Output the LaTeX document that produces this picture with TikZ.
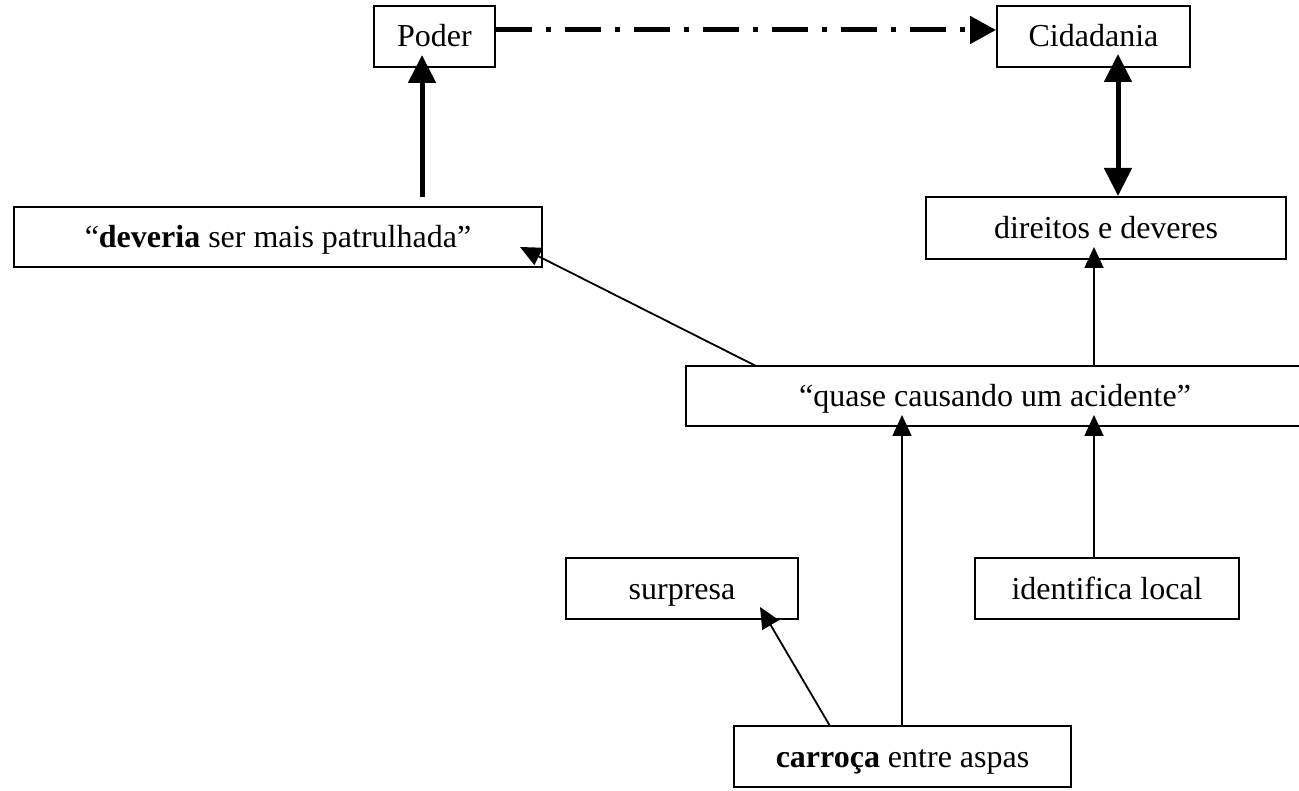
\documentclass[tikz,border=0pt]{standalone}
\usepackage{fontspec}
\setmainfont{Liberation Serif}
\usetikzlibrary{arrows.meta}
\begin{document}
\begin{tikzpicture}[x=1pt,y=-1pt,
  box/.style={draw,line width=2pt,rectangle,inner sep=0pt,text height=23pt,text depth=2pt,font=\fontsize{32}{37}\selectfont},
  thinarrow/.style={line width=1.8pt,-{Triangle[length=21pt,width=19pt]}},
  thickarrow/.style={line width=5pt,-{Triangle[length=28pt,width=27pt]}},
  bothways/.style={line width=5pt,{Triangle[length=28pt,width=27pt]}-{Triangle[length=28pt,width=27pt]}},
  dashdotarrow/.style={line width=5pt,dash pattern=on 36pt off 14pt on 5pt off 14pt,-{Triangle[length=26pt,width=27pt]}}]
\useasboundingbox (0,0) rectangle (1299,791);

% concept boxes
\node[box,minimum width=121pt,minimum height=61pt] (poder) at (434.5,36.5) {Poder};
\node[box,minimum width=193pt,minimum height=61pt] (cid) at (1093.5,36.5) {Cidadania};
\node[box,minimum width=528pt,minimum height=60pt] (dev) at (278,237) {“\textbf{deveria} ser mais patrulhada”};
\node[box,minimum width=360pt,minimum height=62pt] (dir) at (1106,228) {direitos e deveres};
\node[box,minimum width=618pt,minimum height=60pt] (quase) at (995,396) {“quase causando um acidente”};
\node[box,minimum width=232pt,minimum height=61pt] (surp) at (682,588.5) {surpresa};
\node[box,minimum width=264pt,minimum height=61pt] (ident) at (1107,588.5) {identifica local};
\node[box,minimum width=337pt,minimum height=61pt] (carr) at (902.5,756.5) {\textbf{carroça} entre aspas};

% connector end points
\coordinate (lineY) at (0,30);
\coordinate (devTop) at (422,197);
\coordinate (poderIn) at (422,55);
\coordinate (cidIn) at (1118,54);
\coordinate (quaseLeft) at (756,366);
\coordinate (devIn) at (520,247);
\coordinate (quaseMid) at (1094,366);
\coordinate (dirIn) at (1094,247);
\coordinate (quaseIn1) at (902,415);
\coordinate (quaseIn2) at (1094,415);
\coordinate (carrLeft) at (830,726);
\coordinate (surpIn) at (760,607);

% connectors
\draw[dashdotarrow] (poder.east |- lineY) -- (cid.west |- lineY);
\draw[thickarrow] (devTop) -- (poderIn);
\draw[bothways] (cidIn) -- (dir.north -| cidIn);
\draw[thinarrow] (quaseLeft) -- (devIn);
\draw[thinarrow] (quaseMid) -- (dirIn);
\draw[thinarrow] (carr.north -| quaseIn1) -- (quaseIn1);
\draw[thinarrow] (ident.north -| quaseIn2) -- (quaseIn2);
\draw[thinarrow] (carrLeft) -- (surpIn);
\end{tikzpicture}
\end{document}
